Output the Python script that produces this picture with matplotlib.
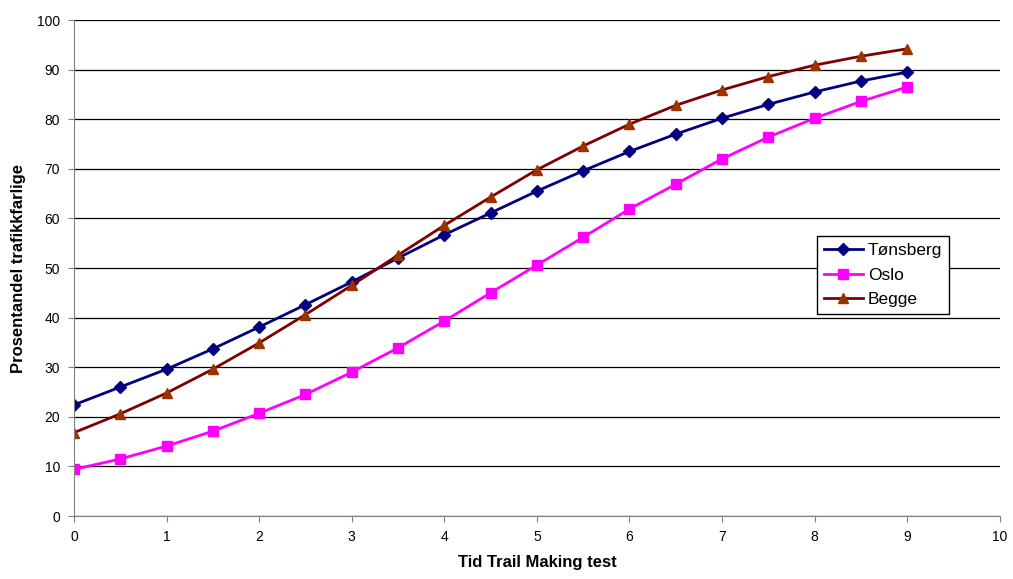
import numpy as np
import matplotlib.pyplot as plt

x = [0, 0.5, 1, 1.5, 2, 2.5, 3, 3.5, 4, 4.5, 5, 5.5, 6, 6.5, 7, 7.5, 8, 8.5, 9]
tonsberg = [22.4, 26.0, 29.6, 33.7, 38.1, 42.6, 47.2, 52.0, 56.7, 61.1, 65.5, 69.6,
            73.5, 77.0, 80.2, 83.0, 85.5, 87.7, 89.5]
oslo = [9.4, 11.5, 14.1, 17.1, 20.7, 24.5, 29.0, 33.9, 39.3, 45.0, 50.6, 56.2,
        61.9, 66.9, 72.0, 76.4, 80.2, 83.6, 86.5]
begge = [16.8, 20.6, 24.8, 29.6, 34.9, 40.6, 46.5, 52.6, 58.6, 64.3, 69.8, 74.6,
         79.0, 82.8, 85.9, 88.6, 90.9, 92.7, 94.2]

plt.rcParams['font.family'] = ['Liberation Sans', 'DejaVu Sans']

fig = plt.figure(figsize=(10.13, 5.79), dpi=100)
ax = fig.add_axes([0.073, 0.1088, 0.914, 0.8566])

ax.plot(x, tonsberg, color='#000080', lw=2, marker='D', ms=6, label='Tønsberg')
ax.plot(x, oslo, color='#FF00FF', lw=2, marker='s', ms=7, label='Oslo')
ax.plot(x, begge, color='#800000', lw=2, marker='^', ms=7,
        mfc='#993300', mec='#993300', label='Begge')

ax.set_xlim(0, 10)
ax.set_ylim(0, 100)
ax.set_xticks(range(0, 11))
ax.set_yticks(range(0, 101, 10))
ax.yaxis.grid(True, color='black', lw=0.9)
ax.set_axisbelow(True)
for s in ['top', 'right']:
    ax.spines[s].set_visible(False)
for s in ['left', 'bottom']:
    ax.spines[s].set_color('#808080')
ax.tick_params(direction='out', length=4, color='#808080', labelsize=10, pad=6)

ax.set_xlabel('Tid Trail Making test', fontsize=12, fontweight='bold', labelpad=8)
ax.set_ylabel('Prosentandel trafikkfarlige', fontsize=12, fontweight='bold', labelpad=8)

leg = ax.legend(loc='upper left', bbox_to_anchor=(0.803, 0.565), fontsize=12.5,
                frameon=True, fancybox=False, edgecolor='black', framealpha=1,
                borderpad=0.4, labelspacing=0.55, handlelength=2.2, handletextpad=0.3,
                borderaxespad=0)
leg.get_frame().set_linewidth(1)

fig.savefig('out.png', dpi=100)
